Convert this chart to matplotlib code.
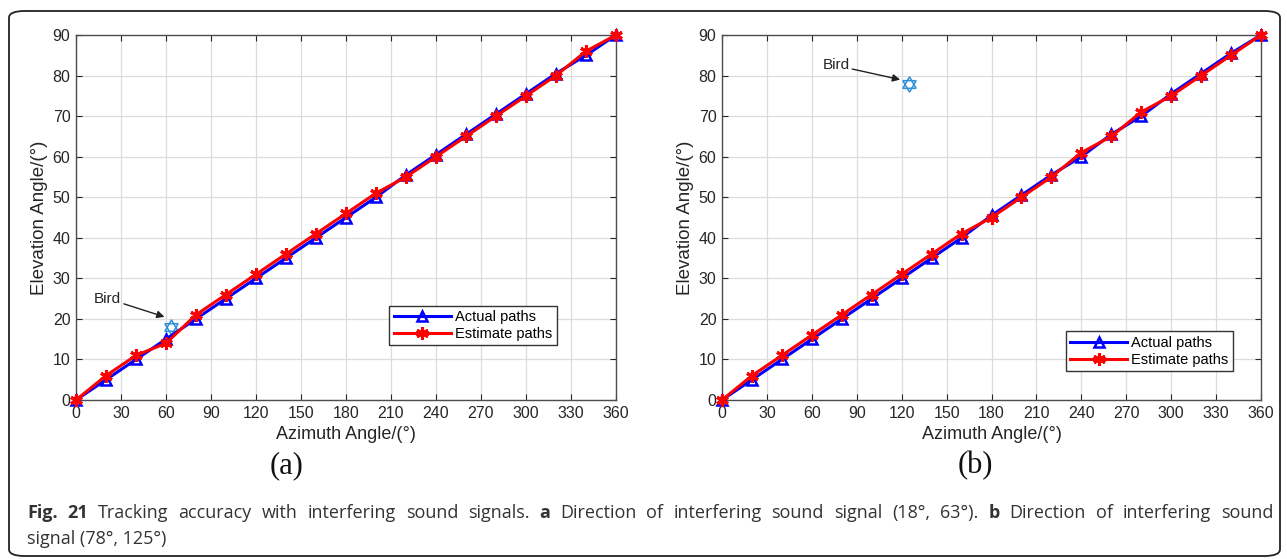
import numpy as np
import matplotlib as mpl
mpl.use('agg')
import matplotlib.pyplot as plt
from matplotlib.patches import FancyBboxPatch

azimuth = np.arange(0, 361, 20)
actual_a = [0, 5, 10, 15, 20, 25, 30, 35, 40, 45, 50, 55.5, 60.5, 65.5, 70.5, 75.5, 80.5, 85, 90]
estimate_a = [0, 6, 11, 14, 21, 26, 31, 36, 41, 46, 51, 55, 60, 65, 70, 75, 80, 86, 90]
actual_b = [0, 5, 10, 15, 20, 25, 30, 35, 40, 45.5, 50.5, 55.5, 60, 65.5, 70, 75.5, 80.5, 85.5, 90]
estimate_b = [0, 6, 11, 16, 21, 26, 31, 36, 41, 45, 50, 55, 61, 65, 71, 75, 80, 85, 90]
bird_a = (63, 18)
bird_b = (125, 78)
xticks = np.arange(0, 361, 30)
yticks = np.arange(0, 91, 10)

W, H = 1287, 559
fig = plt.figure(figsize=(W / 100, H / 100), dpi=100)

# outer rounded frame
frame = FancyBboxPatch((9 / W, 3 / H), 1271 / W, 545 / H,
                       boxstyle="round,pad=0,rounding_size=0.012",
                       transform=fig.transFigure, fill=False,
                       ec='#222222', lw=1.3)
fig.patches.append(frame)

panels = [
    (76, 540, actual_a, estimate_a, bird_a, (12, 25), (59, 20.5), (0.89, 0.15), '(a)', 287),
    (722, 539, actual_b, estimate_b, bird_b, (67, 82.5), (119, 79), (0.948, 0.079), '(b)', 975),
]

for left, width, act, est, bird, txt_xy, tip_xy, leg_anchor, tag, tag_x in panels:
    ax = fig.add_axes([left / W, (H - 400) / H, width / W, 365 / H])
    ax.plot(azimuth, act, '-^', color='blue', lw=2.2, ms=7.5, mfc='none',
            mec='blue', mew=1.8, label='Actual paths', clip_on=False, zorder=3)
    ax.plot(azimuth, est, '-', color='red', lw=2.2, marker=(6, 2, 0), ms=9,
            mec='red', mew=2.2, label='Estimate paths', clip_on=False, zorder=4)
    ax.plot(*bird, marker=(3, 0, 0), ls='none', ms=11, mfc='none',
            mec='#2f8fd8', mew=1.1)
    ax.plot(*bird, marker=(3, 0, 180), ls='none', ms=11, mfc='none',
            mec='#2f8fd8', mew=1.1)
    ax.annotate('Bird', xy=tip_xy, xytext=txt_xy, fontsize=11,
                family='Liberation Sans', color='#262626', va='center',
                arrowprops=dict(arrowstyle='-|>', color='#222222', lw=1.0,
                                mutation_scale=11, shrinkA=0, shrinkB=0))
    ax.set_xlim(0, 360)
    ax.set_ylim(0, 90)
    ax.set_xticks(xticks)
    ax.set_yticks(yticks)
    ax.grid(True, color='#dcdcdc', lw=0.9)
    ax.set_axisbelow(True)
    ax.tick_params(direction='in', top=True, right=True, length=4,
                   labelsize=11.5, colors='#262626', pad=4)
    for s in ax.spines.values():
        s.set_color('#4d4d4d')
        s.set_linewidth(1.0)
    for lab in ax.get_xticklabels() + ax.get_yticklabels():
        lab.set_family('Liberation Sans')
    ax.set_xlabel('Azimuth Angle/(°)', fontsize=13, family='Liberation Sans',
                  color='#262626', labelpad=4)
    ax.set_ylabel('Elevation Angle/(°)', fontsize=13.5, family='Liberation Sans',
                  color='#262626', labelpad=3)
    leg = ax.legend(loc='lower right', bbox_to_anchor=leg_anchor,
                    prop={'family': 'Liberation Sans', 'size': 10.5},
                    fancybox=False, edgecolor='#333333', framealpha=1,
                    handlelength=3.9, handletextpad=0.3, borderpad=0.3,
                    labelspacing=0.2, borderaxespad=0)
    leg.get_frame().set_linewidth(1.0)
    fig.text(tag_x / W, 1 - 466 / H, tag, fontsize=22, family='Liberation Serif',
             ha='center', va='center', color='#111111')

# caption, justified first line
line1 = [("Fig.", 'bold'), ("21", 'bold')]
line1 += [(w, 'normal') for w in "Tracking accuracy with interfering sound signals.".split()]
line1 += [("a", 'bold')]
line1 += [(w, 'normal') for w in "Direction of interfering sound signal (18°, 63°).".split()]
line1 += [("b", 'bold')]
line1 += [(w, 'normal') for w in "Direction of interfering sound".split()]

fig.canvas.draw()
r = fig.canvas.get_renderer()
cap_kw = dict(fontsize=13, family='Open Sans', color='#333333', va='center',
              ha='left', transform=None)
texts = []
widths = []
for w, wt in line1:
    t = fig.text(0, 0, w, fontweight=wt, **cap_kw)
    texts.append(t)
    widths.append(t.get_window_extent(r).width)
x0, x1 = 27, 1273
gap = (x1 - x0 - sum(widths)) / (len(widths) - 1)
x = x0
for t, wd in zip(texts, widths):
    t.set_position((x, H - 513))
    x += wd + gap
fig.text(x0, H - 539, "signal (78°, 125°)", **cap_kw)

fig.savefig('out.png', dpi=100)
